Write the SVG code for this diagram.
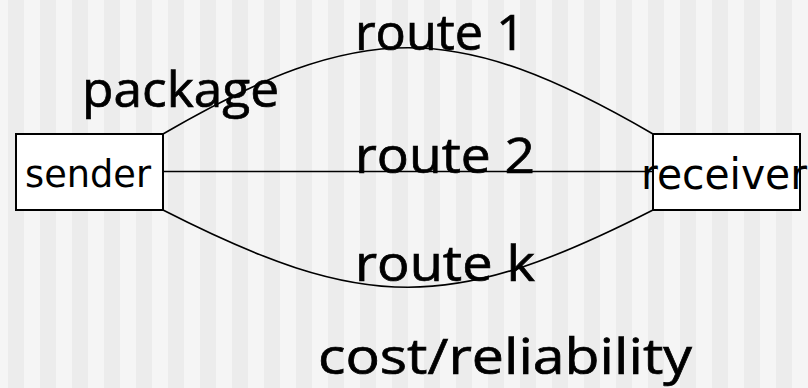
<svg xmlns="http://www.w3.org/2000/svg" width="808" height="388" viewBox="0 0 808 388">
  <defs>
    <pattern id="stripes" x="0" y="0" width="32" height="388" patternUnits="userSpaceOnUse">
      <rect x="0" y="0" width="32" height="388" fill="#f5f5f5"/>
      <rect x="8" y="0" width="16" height="388" fill="#ececec"/>
    </pattern>
  </defs>
  <style>
    .box { fill: #ffffff; stroke: #000000; stroke-width: 2; }
    .node-label { font-family: "DejaVu Sans", "Liberation Sans", sans-serif; fill: #000000; }
    .edge { fill: none; stroke: #000000; stroke-width: 1.6; }
    .hand { font-family: "Open Sans", "Noto Sans", sans-serif; font-size: 50px; fill: #000000; stroke: #000000; stroke-width: 0.7; }
  </style>
  <rect x="0" y="0" width="808" height="388" fill="url(#stripes)"/>

  <g id="connectors">
    <path id="route1" class="edge" d="M163,134 C361,19 455,19 653,134"/>
    <path id="route2" class="edge" d="M163,171.5 L653,171.5"/>
    <path id="routek" class="edge" d="M163,210 C365,313 451,313 653,210"/>
  </g>

  <g id="sender">
    <rect class="box" x="16" y="134" width="147" height="76"/>
    <text class="node-label" x="25" y="187" font-size="37" textLength="126" lengthAdjust="spacingAndGlyphs">sender</text>
  </g>

  <g id="receiver">
    <rect class="box" x="653" y="134" width="147" height="76"/>
    <text class="node-label" x="641" y="189" font-size="42" textLength="166" lengthAdjust="spacingAndGlyphs">receiver</text>
  </g>

  <g id="labels">
    <text class="hand" x="82" y="107" textLength="197" lengthAdjust="spacingAndGlyphs">package</text>
    <text class="hand" x="355" y="50" textLength="170" lengthAdjust="spacingAndGlyphs">route 1</text>
    <text class="hand" x="355" y="173" textLength="180" lengthAdjust="spacingAndGlyphs">route 2</text>
    <text class="hand" x="355" y="281" textLength="180" lengthAdjust="spacingAndGlyphs">route k</text>
    <text class="hand" x="318" y="374" textLength="374" lengthAdjust="spacingAndGlyphs">cost/reliability</text>
  </g>
</svg>
